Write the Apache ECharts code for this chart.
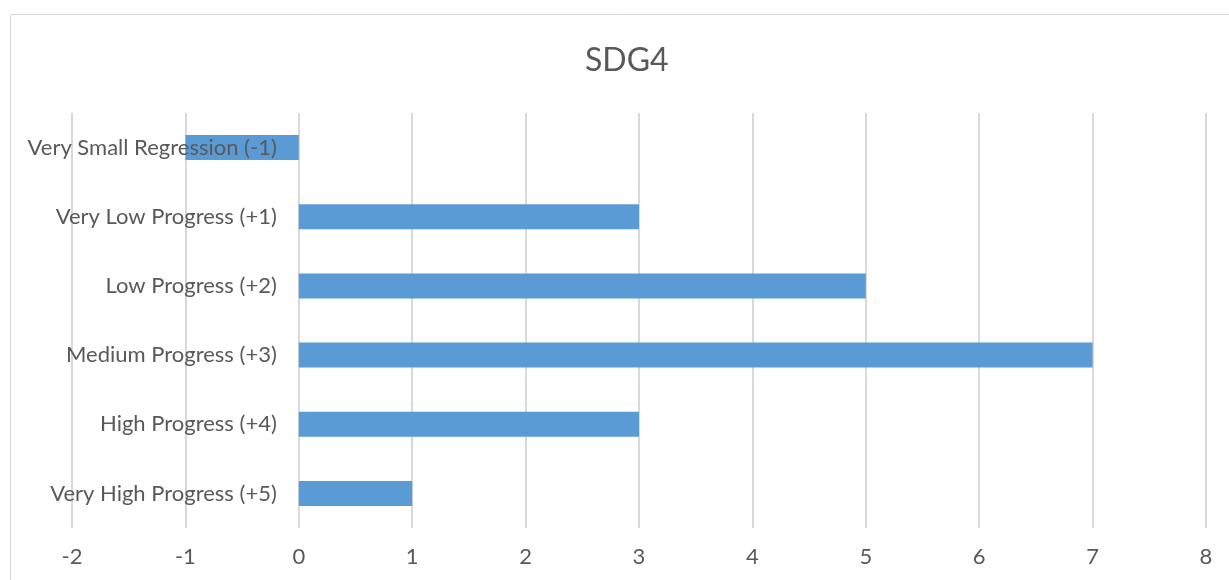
<!DOCTYPE html>
<html><head><meta charset="utf-8">
<script src="https://cdn.jsdelivr.net/npm/echarts@6/dist/echarts.min.js"></script>
<style>html,body{margin:0;padding:0;background:#fff}#c{width:1229px;height:580px}</style>
</head><body><div id="c"></div>
<script>
const categories = ["Very Small Regression (-1)","Very Low Progress (+1)","Low Progress (+2)","Medium Progress (+3)","High Progress (+4)","Very High Progress (+5)"];
const values = [-1, 3, 5, 7, 3, 1];
const titleText = "SDG4";
const chart = echarts.init(document.getElementById('c'));
const font = "Lato, 'Noto Sans', sans-serif";
const gridLeft = 72;
chart.setOption({
  animation: false,
  graphic: [{type:'rect', shape:{x:10.5,y:14.5,width:1240,height:600}, style:{fill:'none',stroke:'#D9D9D9',lineWidth:1}, z:-1}],
  title: {text: titleText, left: 580, top: 40, textStyle:{fontFamily:font, fontSize:32, fontWeight:'normal', color:'#595959'}},
  grid: {left:gridLeft, right:23, top:113, bottom:52, containLabel:false, outerBoundsMode:'none'},
  xAxis: {type:'value', min:-2, max:8, interval:1,
    axisLine:{show:false}, axisTick:{show:false},
    splitLine:{lineStyle:{color:'#D9D9D9', width:2}},
    axisLabel:{fontFamily:font, fontSize:22, color:'#595959', margin:18}},
  yAxis: {type:'category', data: categories, inverse:true, z:10,
    axisLine:{show:false, onZero:false}, axisTick:{show:false},
    axisLabel:{fontFamily:font, fontSize:22, color:'#595959', margin:22}},
  series: [{type:'bar', data: values, barWidth:25, itemStyle:{color:'#5B9BD5'}}]
});
const zeroX = chart.convertToPixel({xAxisIndex:0}, 0);
chart.setOption({yAxis: {offset: -(zeroX - gridLeft)}});
</script></body></html>
